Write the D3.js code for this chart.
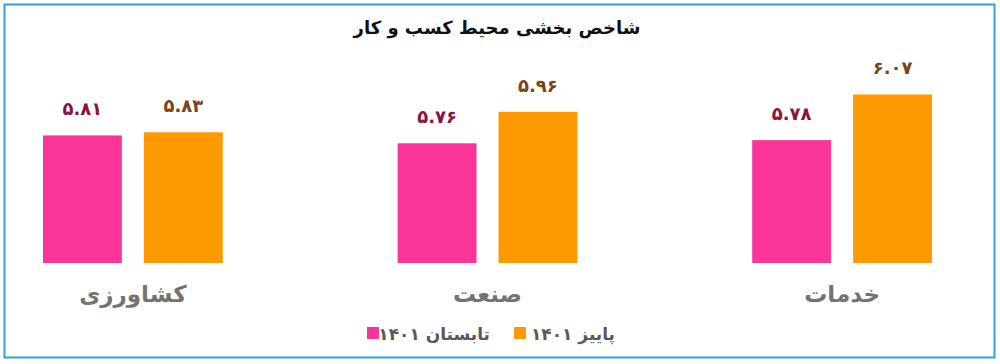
<!DOCTYPE html>
<html>
<head>
<meta charset="utf-8">
<script src="https://cdn.jsdelivr.net/npm/d3@7.9.0/dist/d3.min.js"></script>
<style>
  body { margin: 0; background: #fff; }
  svg { display: block; font-family: "DejaVu Sans", sans-serif; }
</style>
</head>
<body>
<div id="chart"></div>
<script>
// data
const categories = ["کشاورزی", "صنعت", "خدمات"];
const seriesNames = ["تابستان ۱۴۰۱", "پاییز ۱۴۰۱"];
const summer = [5.81, 5.76, 5.78];
const autumn = [5.83, 5.96, 6.07];
const colors = ["#fb3497", "#fe9a01"];
const labelColors = ["#8a1540", "#7a4516"];

const W = 1000, H = 364;
const svg = d3.select("#chart").append("svg")
    .attr("width", W)
    .attr("height", H);

// frame
svg.append("rect")
    .attr("x", 4.5).attr("y", 4.5)
    .attr("width", 990).attr("height", 353)
    .attr("fill", "none")
    .attr("stroke", "#2fa2d4")
    .attr("stroke-width", 2);

// title
svg.append("text")
    .attr("x", 497).attr("y", 34)
    .attr("text-anchor", "middle")
    .attr("direction", "rtl")
    .style("font-size", "18px")
    .style("font-weight", "bold")
    .attr("fill", "#111")
    .text("شاخص بخشی محیط کسب و کار");

const x0 = d3.scaleBand()
    .domain(categories)
    .range([43, 932])
    .paddingInner(0.493)
    .paddingOuter(0);

const x1 = d3.scaleBand()
    .domain([0, 1])
    .range([0, x0.bandwidth()])
    .paddingInner(0.218);

const y = d3.scaleLinear()
    .domain([5, 6.2])
    .range([263, 74]);

const toFa = s => s.replace(/\d/g, d => "۰۱۲۳۴۵۶۷۸۹"[d]);

const rows = categories.map((c, i) => ({cat: c, vals: [summer[i], autumn[i]]}));

const g = svg.selectAll("g.grp")
  .data(rows)
  .join("g")
    .attr("class", "grp")
    .attr("transform", d => `translate(${x0(d.cat)},0)`);

g.selectAll("rect")
  .data(d => d.vals.map((v, k) => ({k, v})))
  .join("rect")
    .attr("x", d => x1(d.k))
    .attr("y", d => y(d.v))
    .attr("width", x1.bandwidth())
    .attr("height", d => y(5) - y(d.v))
    .attr("fill", d => colors[d.k]);

g.selectAll("text.val")
  .data(d => d.vals.map((v, k) => ({k, v})))
  .join("text")
    .attr("class", "val")
    .attr("x", d => x1(d.k) + x1.bandwidth() / 2)
    .attr("y", d => y(d.v) - 20)
    .attr("text-anchor", "middle")
    .style("font-size", "18px")
    .style("font-weight", "bold")
    .attr("fill", d => labelColors[d.k])
    .text(d => toFa(d.v.toFixed(2)));

// category labels
svg.selectAll("text.cat")
  .data(categories)
  .join("text")
    .attr("class", "cat")
    .attr("x", d => x0(d) + x0.bandwidth() / 2)
    .attr("y", 302)
    .attr("text-anchor", "middle")
    .style("font-size", "23px")
    .style("font-weight", "bold")
    .attr("fill", "#737373")
    .text(d => d);

// legend
const legend = [
  {name: seriesNames[0], color: colors[0], sx: 367, tx: 490},
  {name: seriesNames[1], color: colors[1], sx: 514, tx: 615}
];
const lg = svg.selectAll("g.leg")
  .data(legend)
  .join("g")
    .attr("class", "leg");
lg.append("rect")
    .attr("x", d => d.sx).attr("y", 327)
    .attr("width", 12).attr("height", 12)
    .attr("fill", d => d.color);
lg.append("text")
    .attr("x", d => d.tx).attr("y", 340)
    .attr("text-anchor", "end")
    .style("font-size", "17px")
    .style("font-weight", "bold")
    .attr("fill", "#595959")
    .text(d => d.name);
</script>
</body>
</html>
